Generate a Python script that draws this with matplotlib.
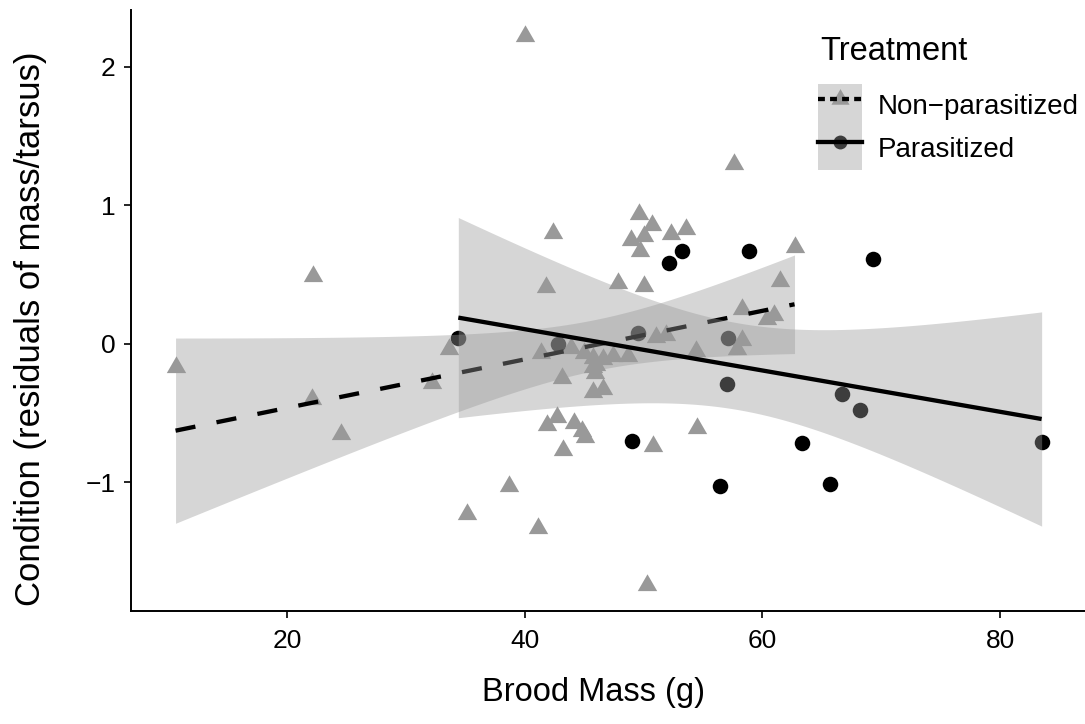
import math
import numpy as np
import matplotlib
matplotlib.use("Agg")
import matplotlib.pyplot as plt
from matplotlib.patches import Patch
from matplotlib.lines import Line2D
from matplotlib.legend_handler import HandlerTuple

plt.rcParams['font.family'] = ['Liberation Sans', 'DejaVu Sans']

# brood mass (g) and condition (residuals of mass/tarsus) for each treatment
nonpara_mass = [10.6, 22.2, 22.1, 24.5, 32.2, 33.6, 35.15, 38.7, 40.0, 41.15,
                41.8, 42.4, 41.4, 43.9, 45.0, 45.7, 43.1, 45.7, 41.9, 42.7,
                44.1, 44.8, 45.1, 43.2, 46.6, 46.0, 47.4, 48.7, 46.6, 47.8,
                50.0, 49.6, 50.7, 50.0, 48.9, 49.7, 52.3, 53.6, 50.8, 50.3,
                54.5, 51.0, 51.9, 54.4, 57.6, 62.7, 61.5, 58.3, 60.4, 61.0,
                58.3, 57.9, 45.7, 45.9]
nonpara_cond = [-0.17, 0.49, -0.40, -0.65, -0.28, -0.04, -1.23, -1.03, 2.22, -1.33,
                0.41, 0.80, -0.07, -0.03, -0.07, -0.17, -0.25, -0.35, -0.59, -0.53,
                -0.57, -0.63, -0.67, -0.77, -0.11, -0.15, -0.09, -0.09, -0.33, 0.44,
                0.42, 0.94, 0.86, 0.78, 0.75, 0.67, 0.79, 0.83, -0.74, -1.74,
                -0.61, 0.05, 0.06, -0.05, 1.30, 0.70, 0.45, 0.25, 0.18, 0.21,
                0.03, -0.04, -0.10, -0.21]

para_mass = [34.4, 42.8, 49.5, 52.1, 53.2, 58.9, 69.3, 57.1,
             57.0, 49.0, 56.4, 63.3, 65.7, 66.7, 68.2, 83.5]
para_cond = [0.045, 0.0, 0.08, 0.58, 0.67, 0.67, 0.61, 0.045,
             -0.29, -0.70, -1.03, -0.72, -1.01, -0.36, -0.48, -0.71]

groups = ['Non\u2212parasitized', 'Parasitized']

GREY = '#999999'


def t_quantile(p, df):
    # Student t quantile: bisection on a numerically integrated cdf
    c = math.gamma((df + 1) / 2) / (math.sqrt(df * math.pi) * math.gamma(df / 2))

    def cdf(t):
        u = np.linspace(0, t, 2001)
        return 0.5 + np.trapezoid(c * (1 + u ** 2 / df) ** (-(df + 1) / 2), u)

    lo, hi = 0.0, 10.0
    for _ in range(60):
        mid = (lo + hi) / 2
        if cdf(mid) < p:
            lo = mid
        else:
            hi = mid
    return (lo + hi) / 2


def lm_band(x, y, level=0.95):
    # straight-line least squares fit with its confidence band
    x = np.asarray(x, float)
    y = np.asarray(y, float)
    n = len(x)
    slope, icpt = np.polyfit(x, y, 1)
    s = np.sqrt(np.sum((y - (icpt + slope * x)) ** 2) / (n - 2))
    xs = np.linspace(x.min(), x.max(), 80)
    fit = icpt + slope * xs
    se = s * np.sqrt(1 / n + (xs - x.mean()) ** 2 / np.sum((x - x.mean()) ** 2))
    t = t_quantile(0.5 + level / 2, n - 2)
    return xs, fit, fit - t * se, fit + t * se


# equilateral triangle, like ggplot's filled triangle
tri = [(0, 0.577), (-0.5, -0.289), (0.5, -0.289)]

fig = plt.figure(figsize=(10.85, 7.24), dpi=100)
ax = fig.add_axes([131 / 1085, 1 - 611 / 724, 954 / 1085, 601 / 724])

ax.scatter(nonpara_mass, nonpara_cond, marker=tri, s=260, c=GREY,
           linewidths=0, zorder=2)
ax.scatter(para_mass, para_cond, marker='o', s=125, c='black',
           linewidths=0, zorder=2)

xs, fit, lo, hi = lm_band(nonpara_mass, nonpara_cond)
ax.fill_between(xs, lo, hi, color=GREY, alpha=0.4, linewidth=0, zorder=3)
ax.plot(xs, fit, color='black', lw=3.1, dashes=(4.7, 5.0),
        dash_capstyle='butt', zorder=4)

xs, fit, lo, hi = lm_band(para_mass, para_cond)
ax.fill_between(xs, lo, hi, color=GREY, alpha=0.4, linewidth=0, zorder=5)
ax.plot(xs, fit, color='black', lw=3.1, solid_capstyle='butt', zorder=6)

ax.set_xlim(6.85, 87.15)
ax.set_ylim(-1.93, 2.41)
ax.set_xticks([20, 40, 60, 80])
ax.set_yticks([-1, 0, 1, 2])
ax.set_yticklabels(['\u22121', '0', '1', '2'])

for side in ('top', 'right'):
    ax.spines[side].set_visible(False)
for side in ('left', 'bottom'):
    ax.spines[side].set_linewidth(1.4)
ax.tick_params(axis='both', labelsize=19, length=5, width=1.2, colors='black')
ax.tick_params(axis='x', pad=8)
ax.tick_params(axis='y', pad=6)

ax.set_xlabel('Brood Mass (g)', fontsize=23.5)
ax.set_ylabel('Condition (residuals of mass/tarsus)', fontsize=25)
ax.xaxis.set_label_coords(0.485, -0.11)
ax.yaxis.set_label_coords(-0.088, 0.47)

# legend: point under a grey ribbon square, line on top
handles = [
    (Line2D([], [], ls='', marker=tri, ms=15, mfc=GREY, mec='none'),
     Patch(facecolor=GREY, alpha=0.4, edgecolor='none'),
     Line2D([], [], color='black', lw=3.1, dashes=(1.6, 1.2))),
    (Line2D([], [], ls='', marker='o', ms=10, mfc='black', mec='none'),
     Patch(facecolor=GREY, alpha=0.4, edgecolor='none'),
     Line2D([], [], color='black', lw=3.1)),
]
fs = 20
fs_px = fs * 100 / 72
fig.legend(handles, groups, handler_map={tuple: HandlerTuple(ndivide=1)},
           loc='upper left', bbox_to_anchor=(818 / 1085, 1 - 84 / 724),
           frameon=False, fontsize=fs, borderpad=0, borderaxespad=0,
           labelspacing=0, handlelength=44 / fs_px,
           handleheight=2.0, handletextpad=0.55)
fig.text(820 / 1085, 1 - 60 / 724, 'Treatment', fontsize=23.5, va='baseline')

fig.savefig('out.png', dpi=100)
